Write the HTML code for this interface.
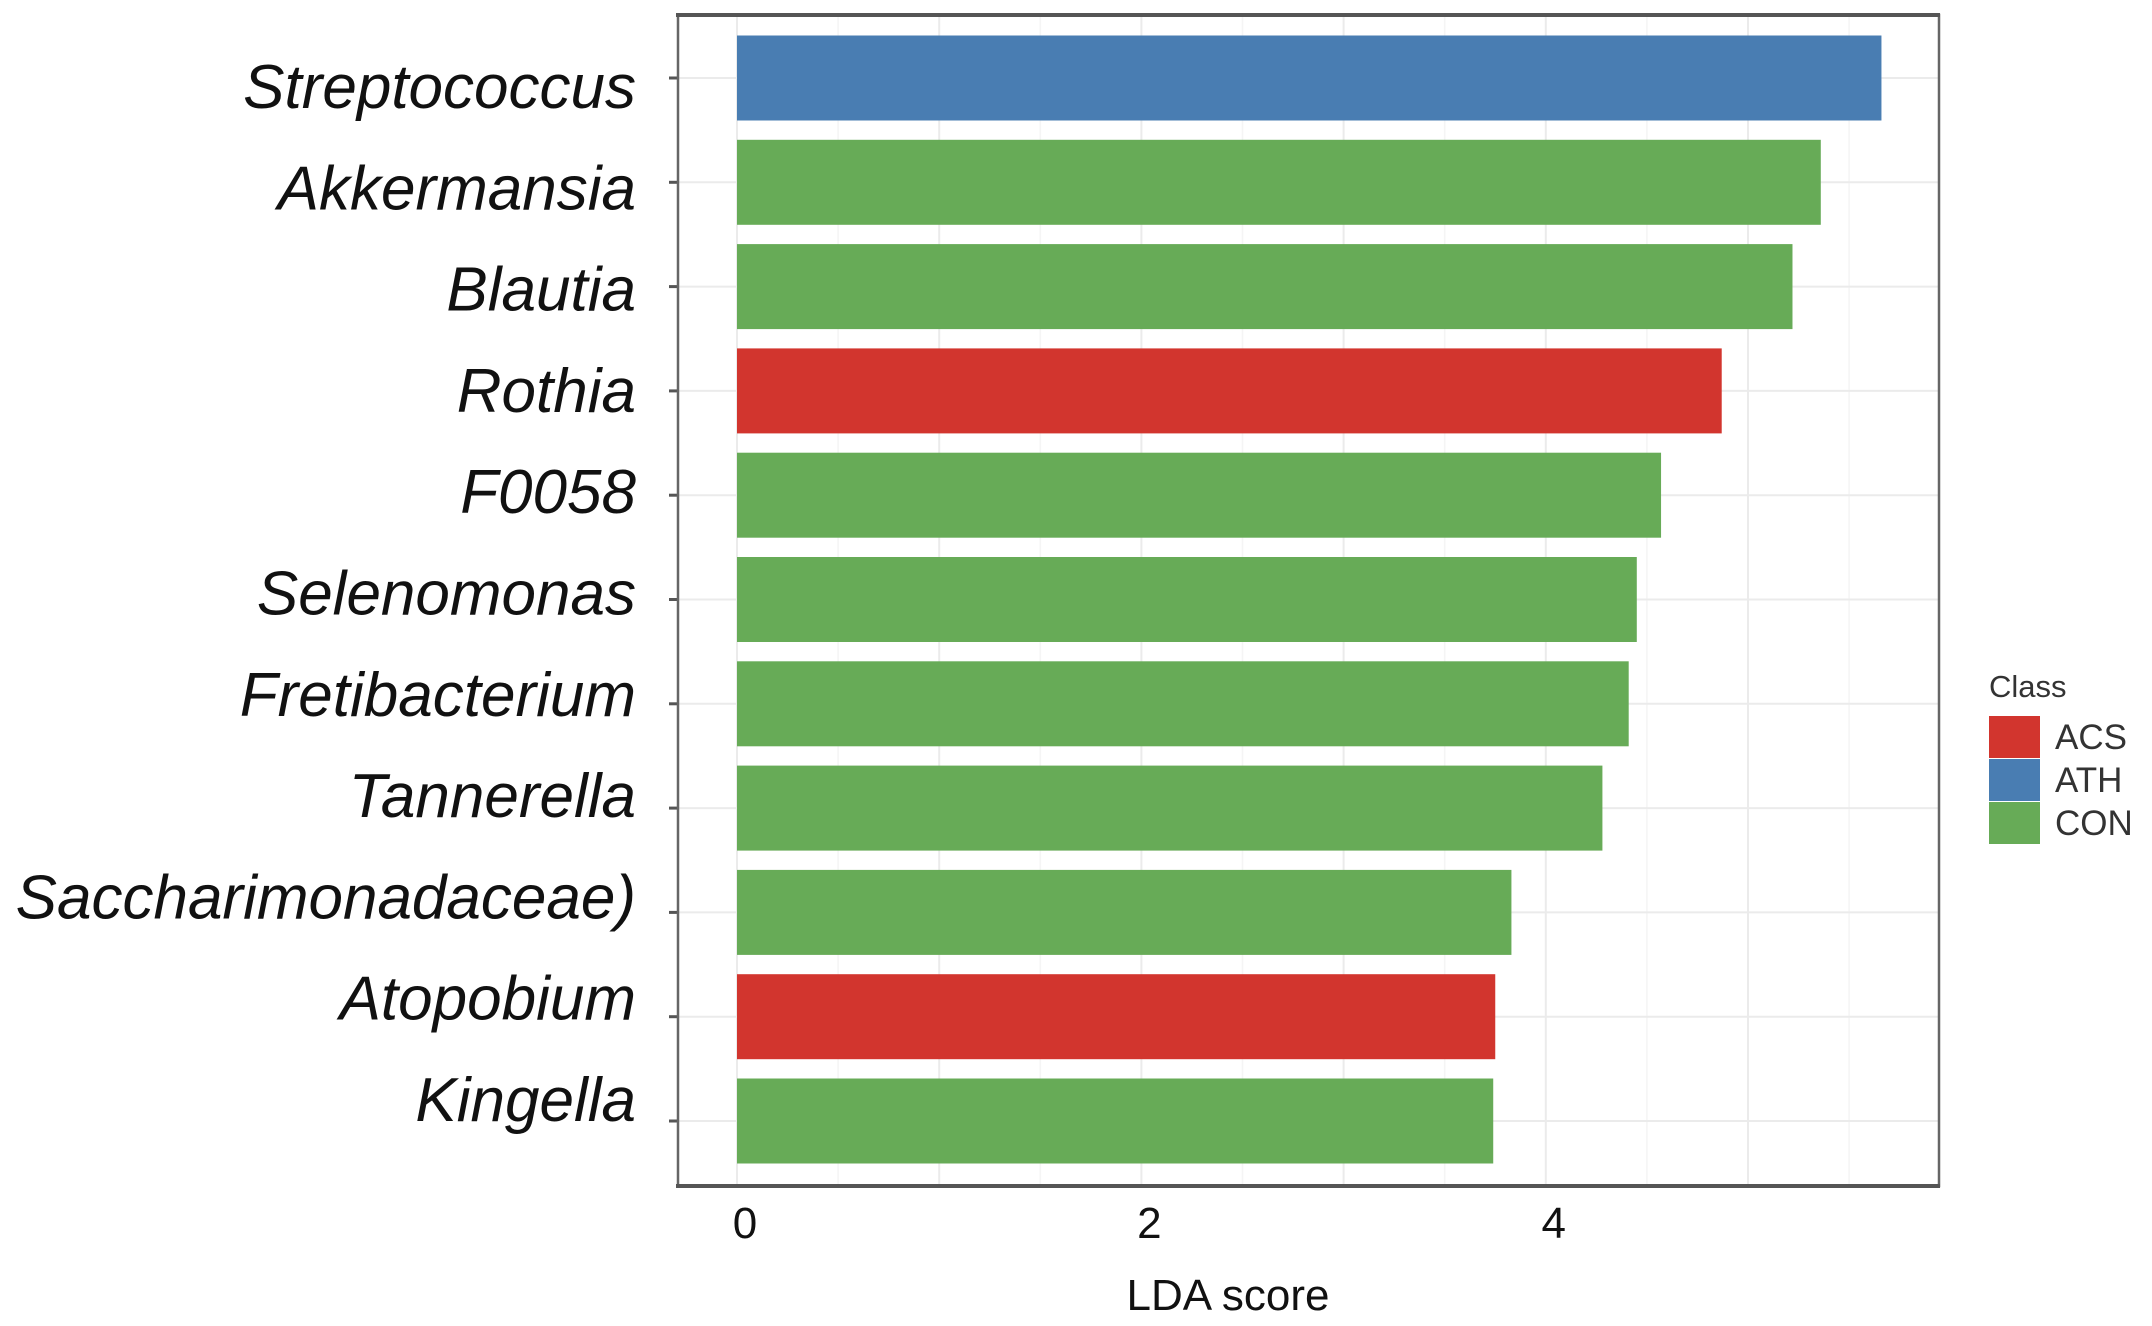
<!DOCTYPE html>
<html><head><meta charset="utf-8"><style>
html,body{margin:0;padding:0;background:#fff;}
svg{display:block;font-family:"Liberation Sans",sans-serif;}
</style></head><body>
<svg id="chart" width="2152" height="1326" viewBox="0 0 2152 1326" xmlns="http://www.w3.org/2000/svg"></svg>
<script>
const categories = ["Streptococcus","Akkermansia","Blautia","Rothia","F0058","Selenomonas","Fretibacterium","Tannerella","Saccharimonadaceae)","Atopobium","Kingella"];
const values = [5.66,5.36,5.22,4.87,4.57,4.45,4.41,4.28,3.83,3.75,3.74];
const classes = ["ATH","CON","CON","ACS","CON","CON","CON","CON","CON","ACS","CON"];
const xTicks = [0,2,4];
const legendClasses = ["ACS","ATH","CON"];
const colors = {ACS:"#d2352e",ATH:"#497db2",CON:"#67ab57"};

const svg = document.getElementById('chart');
const NS = "http://www.w3.org/2000/svg";
function mk(tag, attrs, parent){const e=document.createElementNS(NS,tag);for(const k in attrs)e.setAttribute(k,attrs[k]);(parent||svg).appendChild(e);return e;}
const P = {l:678,r:1939,t:15,b:1186};
const x0 = 737, unit = 202.2;
function xs(v){return x0 + v*unit;}
const band = 104.3, barH = 85, y0 = 78;
function ys(i){return y0 + i*band;}
function labelY(i){return 108 + i*101.3;}

for(let v=0; v<=6; v+=0.5){
  const x=xs(v); if(x>P.r) break;
  const g=mk('line',{x1:x,x2:x,y1:P.t,y2:P.b,stroke:(v%1===0)?'#ebebeb':'#f5f5f5','stroke-width':(v%1===0)?2:1.5});
  
  
}
categories.forEach((c,i)=>{
  const g=mk('line',{x1:P.l,x2:P.r,y1:ys(i),y2:ys(i),stroke:'#ebebeb','stroke-width':2});
  
  
});
categories.forEach((c,i)=>{
  const r=mk('rect',{x:xs(0),y:ys(i)-barH/2,width:xs(values[i])-xs(0),height:barH,fill:colors[classes[i]]});
  
  
  const t=mk('text',{x:636,y:labelY(i),'text-anchor':'end','font-size':62,'font-style':'italic',fill:'#111'});
  t.textContent=c;
  
  
  const tk=mk('line',{x1:P.l-9,x2:P.l,y1:ys(i),y2:ys(i),stroke:'#555','stroke-width':3});
  
  
});
const fr=mk('rect',{x:P.l,y:P.t,width:P.r-P.l,height:P.b-P.t,fill:'none',stroke:'#666','stroke-width':2.5});


const tl=mk('line',{x1:P.l-2,x2:P.r+1,y1:P.t,y2:P.t,stroke:'#555','stroke-width':4});


const bl=mk('line',{x1:P.l-2,x2:P.r+1,y1:P.b,y2:P.b,stroke:'#555','stroke-width':4});


xTicks.forEach(v=>{
  const t=mk('text',{x:xs(v)+8,y:1238,'text-anchor':'middle','font-size':44,fill:'#111'});
  t.textContent=v;
  
  
});
const xt=mk('text',{x:1228,y:1310,'text-anchor':'middle','font-size':44,fill:'#111'});
xt.textContent='LDA score';


const lt=mk('text',{x:1989,y:697,'font-size':31,fill:'#333'});
lt.textContent='Class';


legendClasses.forEach((c,i)=>{
  const y=716+i*43;
  const k=mk('rect',{x:1989,y:y,width:51,height:42,fill:colors[c]});
  
  
  const t=mk('text',{x:2055,y:y+33,'font-size':35,fill:'#333'});
  t.textContent=c;
  
  
});
</script>
</body></html>
